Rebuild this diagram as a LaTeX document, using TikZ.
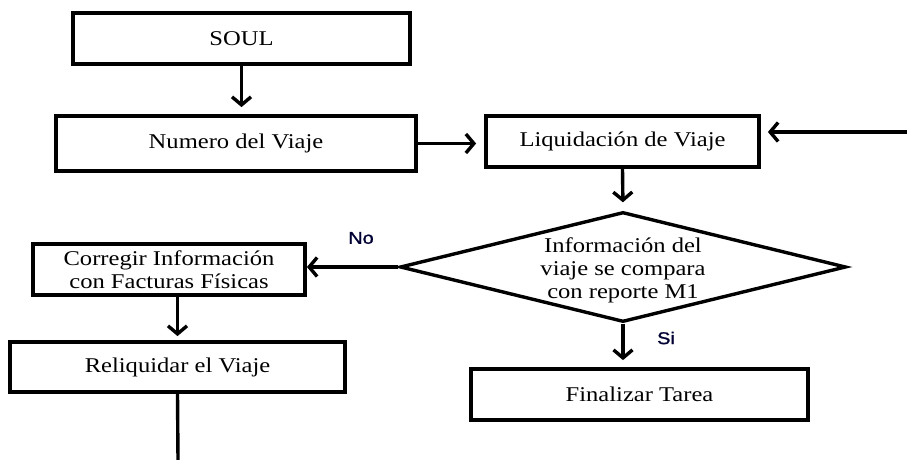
\documentclass[tikz,border=0pt]{standalone}
\usepackage{fontspec}
\setmainfont{Liberation Serif}[FakeStretch=1.17]
\newfontfamily\lblfont{Liberation Sans}[FakeStretch=1.17,FakeBold=1.2]
\usetikzlibrary{arrows.meta,shapes.geometric}
\begin{document}
\begin{tikzpicture}[x=1pt,y=-1pt,
  box/.style={draw,line width=3.8pt,inner sep=0pt,align=center,font=\fontsize{21}{23}\selectfont},
  decision/.style={draw,diamond,line width=3.4pt,inner sep=0pt,minimum width=446pt,minimum height=110pt},
  dtext/.style={align=center,font=\fontsize{21}{23}\selectfont},
  arr/.style={line width=3.4pt,-{Straight Barb[length=8pt,width=19pt]}},
  ln/.style={line width=3.4pt},
  lbl/.style={font=\lblfont\fontsize{17}{19}\selectfont,text=black!80!blue}]
\useasboundingbox (0,0) rectangle (907,460);
\node[box,minimum width=337pt,minimum height=51pt] (soul) at (241.5,38.5) {SOUL};
\node[box,minimum width=360pt,minimum height=55pt] (num) at (236,143.5) {Numero del Viaje};
\node[box,minimum width=273pt,minimum height=51pt] (liq) at (622.5,141.5) {Liquidación de Viaje};
\node[decision] (dec) at (623,267) {};
\node[dtext] (dectxt) at (623,270) {Información del\\viaje se compara\\con reporte M1};
\node[box,minimum width=272pt,minimum height=51pt] (corr) at (169,269.5) {Corregir Información\\con Facturas Físicas};
\node[box,minimum width=335pt,minimum height=50pt] (reli) at (177.5,367) {Reliquidar el Viaje};
\node[box,minimum width=337pt,minimum height=51pt] (fin) at (639.5,394.5) {Finalizar Tarea};
\coordinate (rin) at (907,132);
\coordinate (rout) at (178,460);
\node[lbl] (no) at (361,238) {No};
\node[lbl] (si) at (666,338) {Si};
\draw[arr,shorten >=7pt] (soul.south) -- (soul.south |- num.north);
\draw[arr,shorten >=8pt] (num.east) -- (num.east -| liq.west);
\draw[arr,shorten >=7pt] (rin) -- (rin -| liq.east);
\draw[arr,shorten >=8pt] (liq.south) -- (dec.north);
\draw[arr] (dec.west) -- (dec.west -| corr.east);
\draw[arr,shorten >=4pt] (corr.south -| reli.north) -- (reli.north);
\draw[ln] (reli.south) -- (rout);
\draw[arr,shorten >=7pt] (dec.south) -- (dec.south |- fin.north);
\end{tikzpicture}
\end{document}
